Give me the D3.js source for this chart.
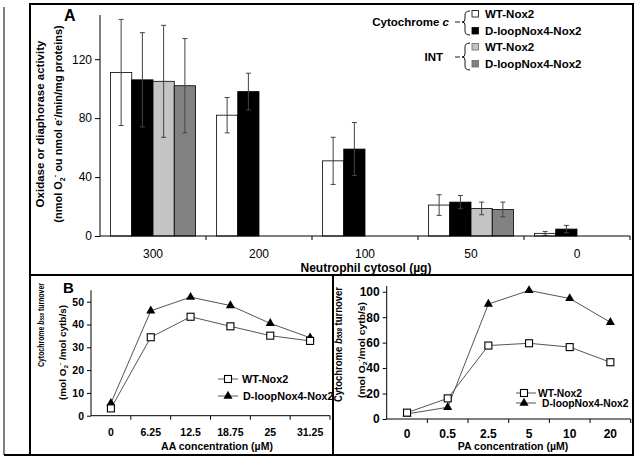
<!DOCTYPE html>
<html><head><meta charset="utf-8">
<script src="https://cdn.jsdelivr.net/npm/d3@7"></script>
<style>
body{margin:0;background:#fff}
svg{display:block}
text{font-family:"Liberation Sans",Arial,Helvetica,sans-serif;fill:#000}
</style>
</head><body>
<svg id="c" width="639" height="460"></svg>
<script>
// ---------- DATA ----------
const cytosol = ["300", "200", "100", "50", "0"];
const cytcWT     = [111, 82, 51, 21, 1.8];
const cytcWTerr  = [36, 12, 16, 7, 1.3];
const cytcDL     = [106, 98, 59, 23, 4.7];
const cytcDLerr  = [32, 12.5, 18, 4.5, 2.5];
const intWT      = [105, null, null, 18.7, null];
const intWTerr   = [38, null, null, 4.3, null];
const intDL      = [102, null, null, 18, null];
const intDLerr   = [32, null, null, 5, null];
const yTicksA    = [0, 40, 80, 120];
const seriesNamesA = ["WT-Nox2", "D-loopNox4-Nox2", "WT-Nox2", "D-loopNox4-Nox2"];
const seriesFillA  = ["#ffffff", "#000000", "#c4c4c4", "#828282"];

const aaConc  = ["0", "6.25", "12.5", "18.75", "25", "31.25"];
const aaWT    = [3.2, 34.4, 43.4, 39.2, 35.1, 32.8];
const aaDL    = [5.5, 46, 52, 48.3, 40.5, 34.2];
const yTicksB1 = [0, 10, 20, 30, 40, 50];

const paConc  = ["0", "0.5", "2.5", "5", "10", "20"];
const paWT    = [5, 16.2, 57.7, 59.5, 56.5, 44.6];
const paDL    = [4, 9.2, 90.3, 101, 94.7, 76];
const yTicksB2 = [0, 20, 40, 60, 80, 100];

const lineNames = ["WT-Nox2", "D-loopNox4-Nox2"];

// ---------- DRAW ----------
const svg = d3.select("#c");

// frames
const fr = svg.append("g").attr("fill", "none").attr("stroke", "#000");
fr.append("line").attr("x1", 4).attr("y1", 7).attr("x2", 4).attr("y2", 455).attr("stroke-width", 1);
fr.append("line").attr("x1", 4).attr("y1", 455).attr("x2", 634).attr("y2", 455).attr("stroke-width", 2);
fr.append("rect").attr("x", 30).attr("y", 4).attr("width", 603).attr("height", 451).attr("stroke-width", 2);
fr.append("line").attr("x1", 30).attr("y1", 275).attr("x2", 633).attr("y2", 275).attr("stroke-width", 2);
fr.append("line").attr("x1", 333).attr("y1", 275).attr("x2", 333).attr("y2", 455).attr("stroke-width", 2);

// ===== Panel A =====
const xA = d3.scaleBand().domain(cytosol).range([100, 630]);
const xInner = d3.scaleBand().domain(d3.range(4)).range([10.5, xA.bandwidth() - 10.5]);
const yA = d3.scaleLinear().domain([0, 150]).range([236, 15]);

const seriesA = [
  {v: cytcWT, e: cytcWTerr},
  {v: cytcDL, e: cytcDLerr},
  {v: intWT, e: intWTerr},
  {v: intDL, e: intDLerr}
];

const gA = svg.append("g");
seriesA.forEach((s, si) => {
  const data = cytosol.map((c, i) => ({c, v: s.v[i], e: s.e[i]})).filter(d => d.v != null);
  gA.selectAll(null).data(data).enter().append("rect")
    .attr("x", d => xA(d.c) + xInner(si))
    .attr("width", xInner.bandwidth())
    .attr("y", d => yA(d.v))
    .attr("height", d => yA(0) - yA(d.v))
    .attr("fill", seriesFillA[si])
    .attr("stroke", "#000").attr("stroke-width", 0.8);
});
// error bars
seriesA.forEach((s, si) => {
  const data = cytosol.map((c, i) => ({c, v: s.v[i], e: s.e[i]})).filter(d => d.v != null);
  const g = gA.append("g").attr("stroke", "#444").attr("stroke-width", 1);
  data.forEach(d => {
    const cx = xA(d.c) + xInner(si) + xInner.bandwidth() / 2;
    g.append("line").attr("x1", cx).attr("x2", cx).attr("y1", yA(d.v + d.e)).attr("y2", yA(Math.max(0, d.v - d.e)));
    g.append("line").attr("x1", cx - 2.5).attr("x2", cx + 2.5).attr("y1", yA(d.v + d.e)).attr("y2", yA(d.v + d.e));
    g.append("line").attr("x1", cx - 2.5).attr("x2", cx + 2.5).attr("y1", yA(Math.max(0, d.v - d.e))).attr("y2", yA(Math.max(0, d.v - d.e)));
  });
});

// y axis A
const axA = svg.append("g").attr("transform", "translate(100,0)")
  .call(d3.axisLeft(yA).tickValues(yTicksA).tickSize(5).tickPadding(3));
axA.select(".domain").attr("d", `M0,${yA(150)}V${yA(0)}`);
axA.selectAll("text").attr("font-size", 12).attr("font-family", "Liberation Sans, Arial, sans-serif");

// x axis A
const axXA = svg.append("g").attr("transform", `translate(0,${yA(0)})`)
  .call(d3.axisBottom(xA).tickSize(0).tickPadding(13));
axXA.selectAll("text").attr("font-size", 12).attr("font-family", "Liberation Sans, Arial, sans-serif");
axXA.select(".domain").attr("d", `M100,0H630`);
cytosol.forEach(c => {
  axXA.append("line").attr("x1", xA(c) + xA.bandwidth()).attr("x2", xA(c) + xA.bandwidth())
    .attr("y1", 0).attr("y2", 4).attr("stroke", "#000");
});
svg.append("text").attr("x", 366).attr("y", 272).attr("text-anchor", "middle")
  .attr("font-size", 12).attr("font-weight", "bold").text("Neutrophil cytosol (µg)");

// y title A
const tA = svg.append("g").attr("transform", "translate(44,124) rotate(-90)");
tA.append("text").attr("text-anchor", "middle").attr("font-size", 11.5).attr("font-weight", "bold")
  .text("Oxidase or diaphorase activity");
const tA2 = tA.append("text").attr("y", 18).attr("text-anchor", "middle").attr("font-size", 11).attr("font-weight", "bold");
tA2.append("tspan").text("(nmol O");
tA2.append("tspan").attr("font-size", 7).attr("dy", 3).text("2");
tA2.append("tspan").attr("font-size", 7).attr("dy", -8).text("-");
tA2.append("tspan").attr("dy", 5).text(" ou nmol e");
tA2.append("tspan").attr("font-size", 7).attr("dy", -5).text("-");
tA2.append("tspan").attr("dy", 5).text("/min/mg proteins)");

svg.append("text").attr("x", 64).attr("y", 21).attr("font-size", 16).attr("font-weight", "bold").text("A");

// legend A
const lg = svg.append("g");
const legRows = [14, 31, 47, 64];
seriesNamesA.forEach((n, i) => {
  lg.append("rect").attr("x", 472).attr("y", legRows[i] - 3.5).attr("width", 6.5).attr("height", 6.5)
    .attr("fill", seriesFillA[i]).attr("stroke", i >= 2 ? "#666" : "#000").attr("stroke-width", 0.8);
  lg.append("text").attr("x", 485).attr("y", legRows[i] + 4.2).attr("font-size", 11.5).attr("font-weight", "bold").text(n);
});
const cyt = lg.append("text").attr("x", 449).attr("y", 26).attr("text-anchor", "end").attr("font-size", 11.5).attr("font-weight", "bold");
cyt.append("tspan").text("Cytochrome ");
cyt.append("tspan").attr("font-style", "italic").text("c");
lg.append("text").attr("x", 443).attr("y", 61).attr("text-anchor", "end").attr("font-size", 11.5).attr("font-weight", "bold").text("INT");
function brace(y0, y1, ym) {
  const xr = 470, xm = 465;
  lg.append("path").attr("fill", "none").attr("stroke", "#000").attr("stroke-width", 0.9)
    .attr("d", `M${xr},${y0} Q${xm},${y0} ${xm},${y0 + 4} L${xm},${ym - 3} Q${xm},${ym} ${xm - 3},${ym} Q${xm},${ym} ${xm},${ym + 3} L${xm},${y1 - 4} Q${xm},${y1} ${xr},${y1}`);
  lg.append("line").attr("x1", 455).attr("x2", 460).attr("y1", ym).attr("y2", ym).attr("stroke", "#000").attr("stroke-width", 0.9);
}
brace(11, 35, 22);
brace(43, 70, 57);

// ===== Panel B helper =====
function linePanel(opt) {
  const x = d3.scaleBand().domain(opt.cats).range([opt.x0, opt.x1]);
  const y = d3.scaleLinear().domain([0, opt.ymax]).range([opt.y0, opt.ytop]);
  const g = svg.append("g");
  const ay = g.append("g").attr("transform", `translate(${opt.x0},0)`)
    .call(d3.axisLeft(y).tickValues(opt.yticks).tickSize(4).tickPadding(3));
  ay.select(".domain").attr("d", `M0,${opt.ytop}V${opt.y0}`);
  ay.selectAll("text").attr("font-size", opt.tfs).attr("font-weight", "bold").attr("font-family", "Liberation Sans, Arial, sans-serif");
  const ax = g.append("g").attr("transform", `translate(0,${opt.y0})`)
    .call(d3.axisBottom(x).tickSize(0).tickPadding(opt.xpad));
  ax.select(".domain").attr("d", `M${opt.x0},0H${opt.x1}`);
  ax.selectAll("text").attr("font-size", opt.tfs).attr("font-weight", "bold").attr("font-family", "Liberation Sans, Arial, sans-serif");
  opt.cats.forEach(c => {
    ax.append("line").attr("x1", x(c) + x.bandwidth()).attr("x2", x(c) + x.bandwidth())
      .attr("y1", 0).attr("y2", 4).attr("stroke", "#000");
  });
  const cx = c => x(c) + x.bandwidth() / 2;
  const ln = d3.line().x(d => cx(d.c)).y(d => y(d.v));
  const wt = opt.cats.map((c, i) => ({c, v: opt.wt[i]}));
  const dl = opt.cats.map((c, i) => ({c, v: opt.dl[i]}));
  g.append("path").datum(dl).attr("d", ln).attr("fill", "none").attr("stroke", "#555").attr("stroke-width", 1);
  g.append("path").datum(wt).attr("d", ln).attr("fill", "none").attr("stroke", "#555").attr("stroke-width", 1);
  const tri = d3.symbol().type(d3.symbolTriangle).size(36);
  g.selectAll(null).data(dl).enter().append("path").attr("d", tri)
    .attr("transform", d => `translate(${cx(d.c)},${y(d.v)})`).attr("fill", "#000");
  g.selectAll(null).data(wt).enter().append("rect")
    .attr("x", d => cx(d.c) - 3.5).attr("y", d => y(d.v) - 3.5).attr("width", 7).attr("height", 7)
    .attr("fill", "#fff").attr("stroke", "#000").attr("stroke-width", 1.1);
  // legend
  const L = opt.leg;
  [0, 1].forEach(i => {
    const yy = L.rows[i];
    g.append("line").attr("x1", L.lx0).attr("x2", L.lx1).attr("y1", yy).attr("y2", yy).attr("stroke", "#555");
    if (i === 0) g.append("rect").attr("x", L.mx - 3.5).attr("y", yy - 3.5).attr("width", 7).attr("height", 7)
      .attr("fill", "#fff").attr("stroke", "#000").attr("stroke-width", 1.1);
    else g.append("path").attr("d", tri).attr("transform", `translate(${L.mx},${yy})`).attr("fill", "#000");
    g.append("text").attr("x", L.tx[i]).attr("y", yy + 3.8).attr("font-size", L.fs).attr("font-weight", "bold").text(lineNames[i]);
  });
  // x title
  g.append("text").attr("x", opt.xtx).attr("y", opt.xty).attr("text-anchor", "middle")
    .attr("font-size", opt.xtfs).attr("font-weight", "bold").text(opt.xtitle);
  // y titles
  const t1 = g.append("text").attr("transform", `translate(${opt.yt1[0]},${opt.yt1[1]}) rotate(-90)`)
    .attr("font-size", opt.ytfs1).attr("font-weight", "bold")
    .attr("textLength", opt.yt1[2]).attr("lengthAdjust", "spacingAndGlyphs");
  t1.append("tspan").text("Cytochrome ");
  t1.append("tspan").attr("font-style", "italic").text("b");
  t1.append("tspan").attr("font-size", opt.ytfs1 * 0.65).attr("font-style", "italic").text("558");
  t1.append("tspan").text(" turnover");
  const t2 = g.append("text").attr("transform", `translate(${opt.yt2[0]},${opt.yt2[1]}) rotate(-90)`)
    .attr("font-size", opt.ytfs2).attr("font-weight", "bold")
    .attr("textLength", opt.yt2[2]).attr("lengthAdjust", "spacingAndGlyphs");
  t2.append("tspan").text("(mol O");
  t2.append("tspan").attr("font-size", opt.ytfs2 * 0.65).attr("dy", 2).text("2");
  t2.append("tspan").attr("font-size", opt.ytfs2 * 0.65).attr("dy", -6).text("-");
  t2.append("tspan").attr("dy", 4).text(opt.sep + "/mol cytb/s)");
}

linePanel({
  cats: aaConc, wt: aaWT, dl: aaDL, yticks: yTicksB1, ymax: 55,
  x0: 91, x1: 330, y0: 415.7, ytop: 290.3, tfs: 10.5, xpad: 13,
  leg: {rows: [379, 396], lx0: 218, lx1: 238, mx: 228, tx: [242, 243], fs: 10.8},
  xtitle: "AA concentration (µM)", xtx: 217, xty: 449.5, xtfs: 10.5,
  yt1: [44, 367, 84], ytfs1: 9.5, yt2: [66, 400, 95], ytfs2: 9.5, sep: " "
});
linePanel({
  cats: paConc, wt: paWT, dl: paDL, yticks: yTicksB2, ymax: 104.5,
  x0: 386.7, x1: 630.7, y0: 419, ytop: 286, tfs: 12, xpad: 10.5,
  leg: {rows: [393, 403], lx0: 516, lx1: 536, mx: 524, tx: [538, 542], fs: 10.3},
  xtitle: "PA concentration (µM)", xtx: 513, xty: 449.5, xtfs: 10.5,
  yt1: [342, 402, 115], ytfs1: 10.5, yt2: [365, 398, 96], ytfs2: 9.5, sep: ""
});

svg.append("text").attr("x", 63).attr("y", 293).attr("font-size", 15).attr("font-weight", "bold").text("B");
</script>
</body></html>
